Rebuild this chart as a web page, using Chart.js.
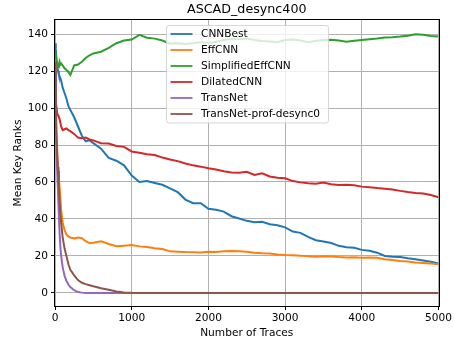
<!DOCTYPE html>
<html>
<head>
<meta charset="utf-8">
<script src="https://cdn.jsdelivr.net/npm/chart.js@4.4.0/dist/chart.umd.min.js"></script>
<style>
  html, body { margin: 0; padding: 0; background: #fff; }
</style>
</head>
<body>
<canvas id="rankChart" width="454" height="344"></canvas>
<script>
const FONT = "DejaVu Sans";

const traces = [
  1, 10, 20, 30, 40, 50, 60, 70, 80, 100, 125, 150, 175, 200, 250, 300, 350, 400, 450, 500,
  600, 700, 800, 900, 1000, 1100, 1200, 1300, 1400, 1500, 1600, 1700, 1800, 1900, 2000,
  2100, 2200, 2300, 2400, 2500, 2600, 2700, 2800, 2900, 3000, 3100, 3200, 3300, 3400, 3500,
  3600, 3700, 3800, 3900, 4000, 4100, 4200, 4300, 4400, 4500, 4600, 4700, 4800, 4900, 5000,
];

const cnnBest = [
  135, 132, 126, 122, 120, 118, 117, 116, 115, 111, 108, 105, 101, 99, 95, 90, 85, 82, 82.5, 81,
  78, 73, 71.5, 69, 63.5, 60, 60.5, 59.5, 58.5, 56.5, 54.5, 50.5, 48.5, 48.5, 45.5,
  45, 44, 41.5, 40.3, 39, 38.3, 38.5, 37.2, 36.6, 35.5, 33.2, 32.5, 30.3, 28.5, 27.8,
  27, 25.5, 24.7, 24.5, 23.3, 22.8, 21.8, 20, 19.6, 19.5, 18.8, 18.2, 17.6, 16.9, 16,
];

const effCnn = [
  125, 100, 85, 75, 68, 62, 57, 52, 45, 38, 34, 31.5, 30.5, 30, 29.5, 30, 29.6, 28, 27, 27.2,
  28, 26.5, 25.3, 25.6, 25.9, 25.2, 24.8, 24.2, 23.8, 22.5, 22.3, 22.1, 22, 21.9, 22.3,
  22.2, 22.5, 22.7, 22.6, 22.3, 21.8, 21.5, 21.3, 20.8, 20.5, 20.4, 20.2, 19.8, 19.6, 19.9,
  19.7, 19.4, 19.2, 19.3, 19.1, 19.2, 19, 18.3, 17.8, 17.3, 17, 16.5, 16.2, 15.9, 15.5,
];

const simplifiedEffCnn = [
  130, 128, 126, 124, 122, 123, 125, 123.5, 124, 123, 121.5, 120.5, 119.5, 117.8, 123, 123.5, 125, 127, 128.5, 129.5,
  130.4, 132.5, 135, 136.5, 137, 139.5, 138, 137.5, 136.5, 134.8, 135, 134.6, 135, 135.5, 135.2,
  135.8, 136.8, 137.3, 137.1, 137.5, 136.8, 136.2, 136, 135.5, 136.8, 137, 136.5, 135.6, 136.3, 136.8,
  136.9, 136.5, 135.8, 136.4, 136.8, 137.2, 137.6, 138.1, 138.3, 138.6, 139, 139.8, 139.6, 138.9, 138.6,
];

const dilatedCnn = [
  118, 104, 100, 97, 96, 95, 94, 92, 90, 88, 88.5, 89, 88, 87.5, 86, 84, 83.6, 84, 83, 82.5,
  81, 80.8, 79.5, 79, 76.5, 75.8, 75, 74.6, 73.2, 72.2, 71.3, 70, 69, 68.3, 67.4,
  66.8, 65.8, 65.2, 65, 65.5, 63.8, 64.7, 63, 62.3, 62, 60.5, 59.8, 59.3, 59, 59.7,
  58.8, 58.4, 58.5, 58.2, 57.5, 57.2, 56.7, 56.4, 56, 55.2, 54.6, 54.1, 53.8, 53, 51.8,
];

const transNet = [
  120, 90, 76, 64, 54, 42, 32, 25, 20, 14, 9.2, 6.5, 4.6, 3.2, 1.5, 0.5, 0.2, 0.05, 0, 0,
  0, 0, 0, 0, 0, 0, 0, 0, 0, 0, 0, 0, 0, 0, 0,
  0, 0, 0, 0, 0, 0, 0, 0, 0, 0, 0, 0, 0, 0, 0,
  0, 0, 0, 0, 0, 0, 0, 0, 0, 0, 0, 0, 0, 0, 0,
];

const transNetProf = [
  125, 100, 85, 74, 66, 58, 49, 43, 38, 30, 24, 19.8, 15.5, 12.5, 9.5, 7, 5.5, 4.8, 4.2, 3.6,
  2.6, 1.8, 0.8, 0.3, 0.1, 0, 0, 0, 0, 0, 0, 0, 0, 0, 0,
  0, 0, 0, 0, 0, 0, 0, 0, 0, 0, 0, 0, 0, 0, 0,
  0, 0, 0, 0, 0, 0, 0, 0, 0, 0, 0, 0, 0, 0, 0,
];

const seriesNames = ["CNNBest", "EffCNN", "SimplifiedEffCNN", "DilatedCNN", "TransNet", "TransNet-prof-desync0"];
const seriesValues = [cnnBest, effCnn, simplifiedEffCnn, dilatedCnn, transNet, transNetProf];
const seriesColors = ["#1f77b4", "#ff7f0e", "#2ca02c", "#d62728", "#9467bd", "#8c564b"];

const xTicks = [0, 1000, 2000, 3000, 4000, 5000];
const yTicks = [0, 20, 40, 60, 80, 100, 120, 140];

// frame, title and the boxed legend (matplotlib look)
const mplDecor = {
  id: "mplDecor",
  afterDatasetsDraw(chart) {
    const { ctx, chartArea: a } = chart;
    ctx.save();
    ctx.strokeStyle = "#000";
    ctx.lineWidth = 1;
    ctx.strokeRect(Math.round(a.left) - 0.5, Math.round(a.top) - 0.5,
      Math.round(a.right - a.left) + 1, Math.round(a.bottom - a.top) + 1);
    ctx.restore();
  },
  afterDraw(chart) {
    const { ctx, chartArea: a } = chart;
    const cx = (a.left + a.right) / 2;
    ctx.save();
    ctx.fillStyle = "#000";
    ctx.font = `12.7px '${FONT}'`;
    ctx.textAlign = "center";
    ctx.textBaseline = "middle";
    ctx.fillText("ASCAD_desync400", cx, 10);

    // legend
    const w = 162, h = 97.5;
    const x0 = Math.round(cx - w / 2) + 0.5, y0 = Math.round(a.top + 5) + 0.5;
    ctx.beginPath();
    ctx.roundRect(x0, y0, w, h, 2.5);
    ctx.fillStyle = "rgba(255,255,255,0.8)";
    ctx.fill();
    ctx.strokeStyle = "rgba(204,204,204,0.8)";
    ctx.lineWidth = 1;
    ctx.stroke();

    ctx.font = `10.6px '${FONT}'`;
    ctx.textAlign = "left";
    seriesNames.forEach((name, i) => {
      const y = y0 + 8.5 + i * 16;
      ctx.strokeStyle = seriesColors[i];
      ctx.lineWidth = 1.8;
      ctx.beginPath();
      ctx.moveTo(x0 + 4, y);
      ctx.lineTo(x0 + 26, y);
      ctx.stroke();
      ctx.fillStyle = "#000";
      ctx.fillText(name, x0 + 34.5, y + 0.5);
    });
    ctx.restore();
  },
};

const plainTick = (v) => String(v);

const ctx = document.getElementById("rankChart").getContext("2d");
new Chart(ctx, {
  type: "line",
  data: {
    datasets: seriesNames.map((name, i) => ({
      label: name,
      data: traces.map((t, j) => ({ x: t, y: seriesValues[i][j] })),
      borderColor: seriesColors[i],
      backgroundColor: seriesColors[i],
      borderWidth: 2,
      pointRadius: 0,
      tension: 0,
      fill: false,
      order: seriesNames.length - i,
    })),
  },
  options: {
    responsive: false,
    animation: false,
    devicePixelRatio: 1,
    layout: { padding: { top: 20, right: 15, left: 0, bottom: 0 } },
    plugins: {
      legend: { display: false },
      title: { display: false },
      tooltip: { enabled: false },
    },
    scales: {
      x: {
        type: "linear",
        min: 0,
        max: 5000,
        afterBuildTicks: (s) => { s.ticks = xTicks.map((v) => ({ value: v })); },
        afterFit: (s) => { s.height = 38; },
        ticks: { color: "#000", font: { family: FONT, size: 10.6 }, padding: 2, maxRotation: 0, callback: plainTick },
        grid: { color: "#b0b0b0", lineWidth: 1, tickColor: "#000", tickLength: 4, tickWidth: 1 },
        border: { display: false },
        title: {
          display: true,
          text: "Number of Traces",
          color: "#000",
          font: { family: FONT, size: 10.6 },
          padding: { top: 0, bottom: 4 },
        },
      },
      y: {
        type: "linear",
        min: -7.03,
        max: 147.57,
        afterBuildTicks: (s) => { s.ticks = yTicks.map((v) => ({ value: v })); },
        afterFit: (s) => { s.width = 55; },
        ticks: { color: "#000", font: { family: FONT, size: 10.6 }, padding: 3, callback: plainTick },
        grid: { color: "#b0b0b0", lineWidth: 1, tickColor: "#000", tickLength: 4, tickWidth: 1 },
        border: { display: false },
        title: {
          display: true,
          text: "Mean Key Ranks",
          color: "#000",
          font: { family: FONT, size: 10.6 },
          padding: { top: 11.5, bottom: 0 },
        },
      },
    },
  },
  plugins: [mplDecor],
});
</script>
</body>
</html>
